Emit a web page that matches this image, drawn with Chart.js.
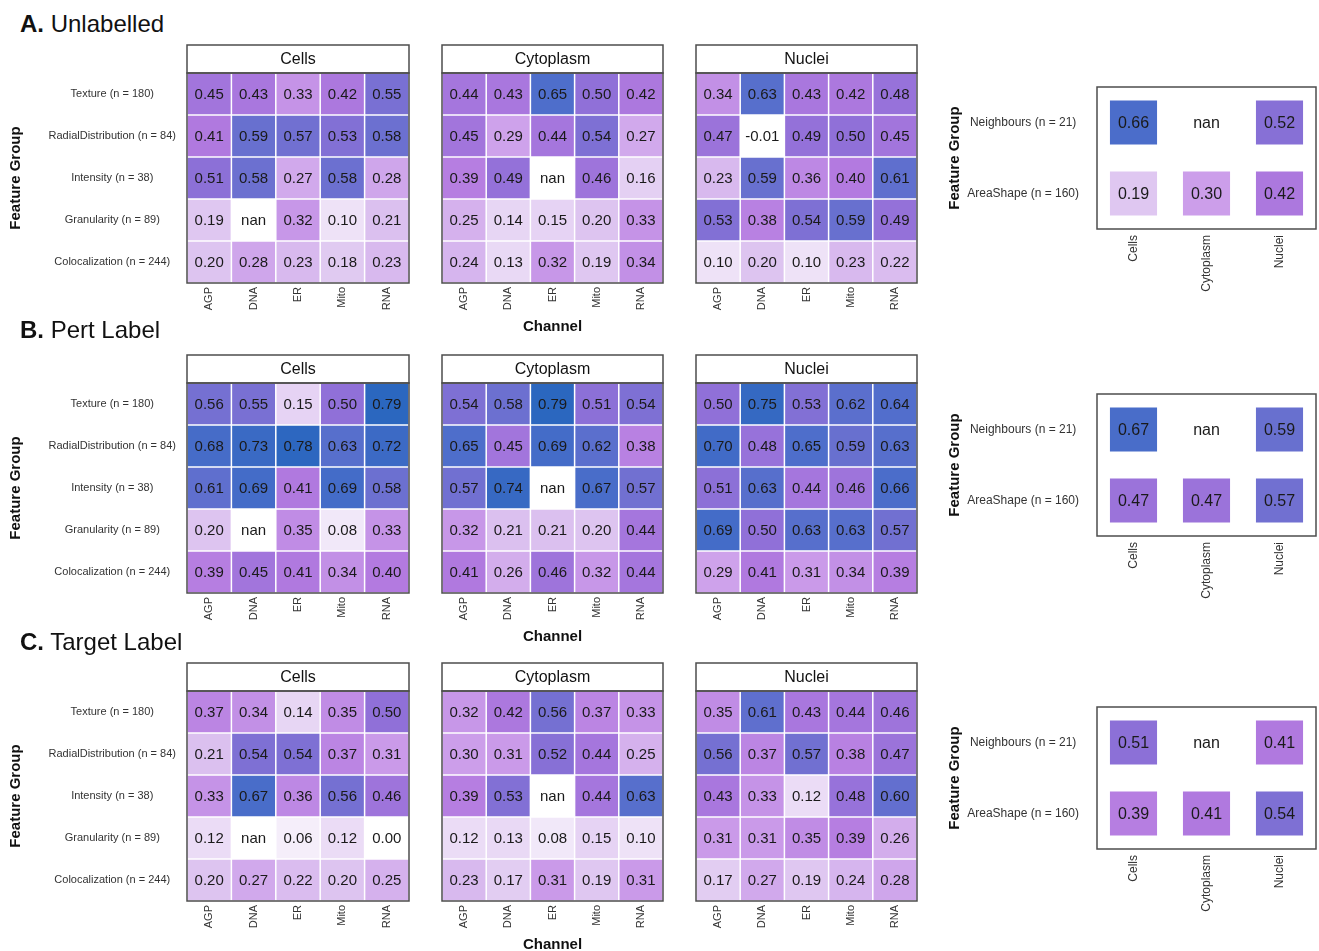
<!DOCTYPE html>
<html>
<head>
<meta charset="utf-8">
<title>Feature group heatmaps</title>
<script src="https://cdn.jsdelivr.net/npm/chart.js@4"></script>
<style>
  body { margin: 0; background: #fff; width: 1319px; height: 951px; position: relative; overflow: hidden;
         font-family: 'Liberation Sans', Arial, sans-serif; }
  .panel-title { position: absolute; left: 20px; font-size: 24px; line-height: 24px; color: #111; white-space: nowrap; }
  canvas { display: block; }
</style>
</head>
<body>
<script>
Chart.defaults.font.family = "'Liberation Sans', Arial, sans-serif";
Chart.defaults.animation = false;

const channels = ['AGP', 'DNA', 'ER', 'Mito', 'RNA'];
const featureGroups = ['Texture (n = 180)', 'RadialDistribution (n = 84)', 'Intensity (n = 38)', 'Granularity (n = 89)', 'Colocalization (n = 244)'];
const compartments = ['Cells', 'Cytoplasm', 'Nuclei'];
const otherGroups = ['Neighbours (n = 21)', 'AreaShape (n = 160)'];

// A. Unlabelled (rows follow featureGroups, columns follow channels, null = nan)
const unlabelledCells = [
  [0.45, 0.43, 0.33, 0.42, 0.55],
  [0.41, 0.59, 0.57, 0.53, 0.58],
  [0.51, 0.58, 0.27, 0.58, 0.28],
  [0.19, null, 0.32, 0.10, 0.21],
  [0.20, 0.28, 0.23, 0.18, 0.23]
];
const unlabelledCytoplasm = [
  [0.44, 0.43, 0.65, 0.50, 0.42],
  [0.45, 0.29, 0.44, 0.54, 0.27],
  [0.39, 0.49, null, 0.46, 0.16],
  [0.25, 0.14, 0.15, 0.20, 0.33],
  [0.24, 0.13, 0.32, 0.19, 0.34]
];
const unlabelledNuclei = [
  [0.34, 0.63, 0.43, 0.42, 0.48],
  [0.47, -0.01, 0.49, 0.50, 0.45],
  [0.23, 0.59, 0.36, 0.40, 0.61],
  [0.53, 0.38, 0.54, 0.59, 0.49],
  [0.10, 0.20, 0.10, 0.23, 0.22]
];
const unlabelledOther = [
  [0.66, null, 0.52],
  [0.19, 0.30, 0.42]
];

// B. Pert Label
const pertCells = [
  [0.56, 0.55, 0.15, 0.50, 0.79],
  [0.68, 0.73, 0.78, 0.63, 0.72],
  [0.61, 0.69, 0.41, 0.69, 0.58],
  [0.20, null, 0.35, 0.08, 0.33],
  [0.39, 0.45, 0.41, 0.34, 0.40]
];
const pertCytoplasm = [
  [0.54, 0.58, 0.79, 0.51, 0.54],
  [0.65, 0.45, 0.69, 0.62, 0.38],
  [0.57, 0.74, null, 0.67, 0.57],
  [0.32, 0.21, 0.21, 0.20, 0.44],
  [0.41, 0.26, 0.46, 0.32, 0.44]
];
const pertNuclei = [
  [0.50, 0.75, 0.53, 0.62, 0.64],
  [0.70, 0.48, 0.65, 0.59, 0.63],
  [0.51, 0.63, 0.44, 0.46, 0.66],
  [0.69, 0.50, 0.63, 0.63, 0.57],
  [0.29, 0.41, 0.31, 0.34, 0.39]
];
const pertOther = [
  [0.67, null, 0.59],
  [0.47, 0.47, 0.57]
];

// C. Target Label
const targetCells = [
  [0.37, 0.34, 0.14, 0.35, 0.50],
  [0.21, 0.54, 0.54, 0.37, 0.31],
  [0.33, 0.67, 0.36, 0.56, 0.46],
  [0.12, null, 0.06, 0.12, 0.00],
  [0.20, 0.27, 0.22, 0.20, 0.25]
];
const targetCytoplasm = [
  [0.32, 0.42, 0.56, 0.37, 0.33],
  [0.30, 0.31, 0.52, 0.44, 0.25],
  [0.39, 0.53, null, 0.44, 0.63],
  [0.12, 0.13, 0.08, 0.15, 0.10],
  [0.23, 0.17, 0.31, 0.19, 0.31]
];
const targetNuclei = [
  [0.35, 0.61, 0.43, 0.44, 0.46],
  [0.56, 0.37, 0.57, 0.38, 0.47],
  [0.43, 0.33, 0.12, 0.48, 0.60],
  [0.31, 0.31, 0.35, 0.39, 0.26],
  [0.17, 0.27, 0.19, 0.24, 0.28]
];
const targetOther = [
  [0.51, null, 0.41],
  [0.39, 0.41, 0.54]
];

// white -> orchid -> blue
const colorStops = [
  [0.00, '#ffffff'],
  [0.10, '#eee2f7'],
  [0.20, '#ddc4f0'],
  [0.30, '#cc9eea'],
  [0.40, '#b37ae0'],
  [0.50, '#9070d8'],
  [0.58, '#6c70d0'],
  [0.65, '#4e6ecb'],
  [0.80, '#2866be']
];

function hexToRgb(h) {
  return [1, 3, 5].map(i => parseInt(h.slice(i, i + 2), 16));
}

function cellColor(v) {
  if (v === null) return '#ffffff';
  if (v <= colorStops[0][0]) return colorStops[0][1];
  for (let i = 1; i < colorStops.length; i++) {
    if (v <= colorStops[i][0]) {
      const [v0, c0] = colorStops[i - 1];
      const [v1, c1] = colorStops[i];
      const t = (v - v0) / (v1 - v0);
      const a = hexToRgb(c0), b = hexToRgb(c1);
      return 'rgb(' + a.map((x, k) => Math.round(x + (b[k] - x) * t)).join(',') + ')';
    }
  }
  return colorStops[colorStops.length - 1][1];
}

// value labels, strip header and panel frame
const facetPlugin = {
  id: 'facet',
  afterDatasetsDraw(chart, args, opts) {
    const ctx = chart.ctx;
    ctx.save();
    ctx.font = opts.labelSize + "px 'Liberation Sans', Arial, sans-serif";
    ctx.fillStyle = '#1a1a1a';
    ctx.textAlign = 'center';
    ctx.textBaseline = 'middle';
    chart.data.datasets.forEach((ds, i) => {
      chart.getDatasetMeta(i).data.forEach((bar, j) => {
        const v = ds.values[j];
        const p = bar.getCenterPoint();
        ctx.fillText(v === null ? 'nan' : v.toFixed(2), p.x, p.y + 1);
      });
    });
    ctx.restore();
  },
  afterDraw(chart, args, opts) {
    const ctx = chart.ctx;
    const a = chart.chartArea;
    ctx.save();
    ctx.strokeStyle = '#4d4d4d';
    ctx.lineWidth = 1.5;
    if (opts.strip) {
      ctx.fillStyle = '#ffffff';
      ctx.fillRect(a.left, a.top - 28, a.right - a.left, 28);
      ctx.strokeRect(a.left, a.top - 28, a.right - a.left, 28);
      ctx.font = "16px 'Liberation Sans', Arial, sans-serif";
      ctx.fillStyle = '#111';
      ctx.textAlign = 'center';
      ctx.textBaseline = 'middle';
      ctx.fillText(opts.strip, (a.left + a.right) / 2, a.top - 13);
    }
    ctx.strokeRect(a.left, a.top, a.right - a.left, a.bottom - a.top);
    ctx.restore();
  }
};
Chart.register(facetPlugin);

function addCanvas(left, top, w, h) {
  const c = document.createElement('canvas');
  c.width = w;
  c.height = h;
  c.style.cssText = `position:absolute;left:${left}px;top:${top}px;width:${w}px;height:${h}px`;
  document.body.appendChild(c);
  return c;
}

function heatmap(canvas, stripTitle, values, rowLabels, colLabels, cfg) {
  return new Chart(canvas, {
    type: 'bar',
    data: {
      labels: colLabels,
      datasets: values.map((row, i) => ({
        label: rowLabels[i],
        data: row.map(() => 1),
        values: row,
        backgroundColor: row.map(cellColor),
        borderColor: '#ffffff',
        borderWidth: cfg.border,
        borderSkipped: false,
        inflateAmount: 0,
        barPercentage: cfg.barPercentage,
        categoryPercentage: 1
      }))
    },
    options: {
      responsive: false,
      layout: { padding: cfg.padding },
      plugins: {
        legend: { display: false },
        tooltip: { enabled: false },
        facet: { strip: stripTitle, labelSize: cfg.labelSize }
      },
      scales: {
        x: {
          stacked: true,
          afterFit: ax => { ax.height = cfg.xHeight; ax.paddingLeft = 0; ax.paddingRight = 0; },
          grid: { display: false, drawTicks: false },
          border: { display: false },
          ticks: { minRotation: 90, maxRotation: 90, padding: cfg.xPad, autoSkip: false,
                   font: { size: cfg.tickSize }, color: '#333' },
          title: { display: !!cfg.xTitle, text: cfg.xTitle || '', color: '#111',
                   font: { size: 15, weight: 'bold' }, padding: { top: 0, bottom: 2 } }
        },
        y: {
          display: cfg.showY,
          stacked: true,
          reverse: true,
          min: 0,
          max: rowLabels.length,
          afterBuildTicks: ax => { ax.ticks = rowLabels.map((_, i) => ({ value: i + 0.5 })); },
          afterFit: ax => { ax.width = cfg.showY ? cfg.yWidth : 0; ax.paddingTop = 0; ax.paddingBottom = 0; },
          grid: { display: false, drawTicks: false },
          border: { display: false },
          ticks: { autoSkip: false, crossAlign: 'center', padding: cfg.yPad,
                   font: { size: cfg.tickSize }, color: '#333',
                   callback: (v, i) => rowLabels[i] },
          title: { display: true, text: 'Feature Group', color: '#111',
                   font: { size: 15, weight: 'bold' }, padding: { top: cfg.yTitlePad, bottom: 0 } }
        }
      }
    }
  });
}

const figureRows = [
  { tag: 'A.', name: 'Unlabelled', titleTop: 12, headerTop: 45, boxTop: 87,
    panels: [unlabelledCells, unlabelledCytoplasm, unlabelledNuclei], other: unlabelledOther },
  { tag: 'B.', name: 'Pert Label', titleTop: 318, headerTop: 355, boxTop: 394,
    panels: [pertCells, pertCytoplasm, pertNuclei], other: pertOther },
  { tag: 'C.', name: 'Target Label', titleTop: 630, headerTop: 663, boxTop: 707,
    panels: [targetCells, targetCytoplasm, targetNuclei], other: targetOther }
];

const panelLeft = [0, 436, 690];
const panelWidth = [415, 233, 233];

figureRows.forEach(r => {
  const t = document.createElement('div');
  t.className = 'panel-title';
  t.style.top = r.titleTop + 'px';
  t.innerHTML = '<b>' + r.tag + '</b> ' + r.name;
  document.body.appendChild(t);

  r.panels.forEach((vals, k) => {
    const c = addCanvas(panelLeft[k], r.headerTop - 5, panelWidth[k], 298);
    heatmap(c, compartments[k], vals, featureGroups, channels, {
      showY: k === 0,
      yWidth: 187, yPad: 11, yTitlePad: 7,
      xHeight: 55, xPad: 4,
      xTitle: k === 1 ? 'Channel' : '',
      tickSize: 11, labelSize: 15,
      border: 0.75, barPercentage: 1,
      padding: { top: 33, left: k === 0 ? 0 : 6, right: 6, bottom: 0 }
    });
  });

  const s = addCanvas(940, r.boxTop - 5, 379, 222);
  heatmap(s, '', r.other, otherGroups, compartments, {
    showY: true,
    yWidth: 157, yPad: 18, yTitlePad: 6,
    xHeight: 75, xPad: 6,
    xTitle: '',
    tickSize: 12, labelSize: 16,
    border: { top: 13.5, bottom: 13.5, left: 0, right: 0 }, barPercentage: 0.65,
    padding: { top: 5, left: 0, right: 3, bottom: 0 }
  });
});
</script>
</body>
</html>
